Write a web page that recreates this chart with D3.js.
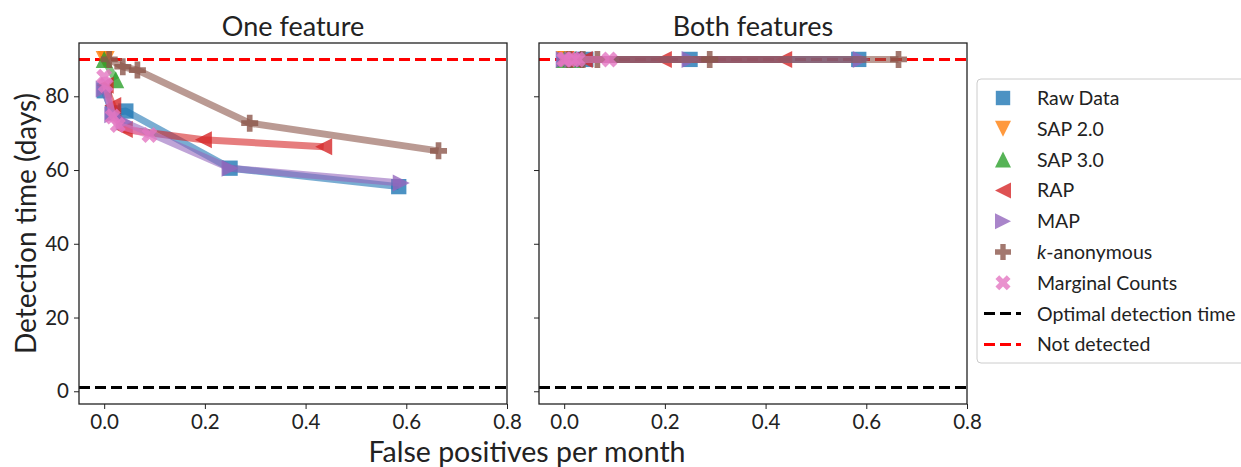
<!DOCTYPE html>
<html>
<head>
<meta charset="utf-8">
<script src="https://cdn.jsdelivr.net/npm/d3@7"></script>
<style>
  body { margin: 0; background: #fff; }
  svg { font-family: Lato, "Open Sans", sans-serif; }
</style>
</head>
<body>
<svg id="fig" width="1241" height="467"></svg>
<script>
// data
var names = ["Raw Data", "SAP 2.0", "SAP 3.0", "RAP", "MAP", "k-anonymous", "Marginal Counts"];
var colors = ["#1f77b4", "#ff7f0e", "#2ca02c", "#d62728", "#9467bd", "#8c564b", "#e377c2"];
var markers = ["square", "down", "up", "left", "right", "plus", "x"];

// false positives per month (same for both panels)
var fpRaw = [0.0, 0.017, 0.043, 0.25, 0.585];
var fpSap2 = [0.0, 0.004];
var fpSap3 = [0.0, 0.023];
var fpRap = [0.002, 0.017, 0.04, 0.197, 0.436];
var fpMap = [0.0, 0.017, 0.04, 0.25, 0.59];
var fpKanon = [0.01, 0.037, 0.066, 0.289, 0.664];
var fpMarginal = [0.0, 0.003, 0.017, 0.027, 0.09];

// detection time, one feature
var oneRaw = [81.5, 75.5, 76, 60.5, 55.5];
var oneSap2 = [90, 90];
var oneSap3 = [90, 84.5];
var oneRap = [83, 77.5, 71, 68.2, 66.3];
var oneMap = [82, 75, 73, 60.5, 56.5];
var oneKanon = [90, 88, 87.1, 72.7, 65.2];
var oneMarginal = [85.3, 83, 74.5, 72.2, 69.5];

// detection time, both features (never detected)
var bothRaw = [90, 90, 90, 90, 90];
var bothSap2 = [90, 90];
var bothSap3 = [90, 90];
var bothRap = [90, 90, 90, 90, 90];
var bothMap = [90, 90, 90, 90, 90];
var bothKanon = [90, 90, 90, 90, 90];
var bothMarginal = [90, 90, 90, 90, 90];

var fpAll = [fpRaw, fpSap2, fpSap3, fpRap, fpMap, fpKanon, fpMarginal];
var oneAll = [oneRaw, oneSap2, oneSap3, oneRap, oneMap, oneKanon, oneMarginal];
var bothAll = [bothRaw, bothSap2, bothSap3, bothRap, bothMap, bothKanon, bothMarginal];

var xTicks = [0, 0.2, 0.4, 0.6, 0.8];
var yTicks = [0, 20, 40, 60, 80];
var optimalTime = 1, notDetected = 90;

var svg = d3.select("#fig");
var top0 = 43, bottom0 = 404;
var panels = [
  {title: "One feature", left: 79, right: 507, values: oneAll, labels: true},
  {title: "Both features", left: 539, right: 967, values: bothAll, labels: false}
];

var y = d3.scaleLinear().domain([-3.45, 94.45]).range([bottom0, top0]);

// marker shapes, s = size in px
function markerPath(type, s) {
  var h = s / 2;
  if (type == "square") { h = s * 0.45; return "M" + -h + "," + -h + "H" + h + "V" + h + "H" + -h + "Z"; }
  if (type == "up") return "M0," + -h + "L" + h + "," + h + "L" + -h + "," + h + "Z";
  if (type == "down") return "M0," + h + "L" + h + "," + -h + "L" + -h + "," + -h + "Z";
  if (type == "left") return "M" + -h + ",0L" + h + "," + -h + "L" + h + "," + h + "Z";
  if (type == "right") return "M" + h + ",0L" + -h + "," + -h + "L" + -h + "," + h + "Z";
  if (type == "plus" || type == "x") {
    var a = h, b = h / 3;
    return "M" + -b + "," + -a + "H" + b + "V" + -b + "H" + a + "V" + b + "H" + b + "V" + a + "H" + -b + "V" + b + "H" + -a + "V" + -b + "H" + -b + "Z";
  }
}

panels.forEach(function(p) {
  var x = d3.scaleLinear().domain([-0.05, 0.8]).range([p.left, p.right]);
  var g = svg.append("g");

  g.append("defs").append("clipPath").attr("id", "clip" + p.left)
    .append("rect").attr("x", p.left).attr("y", top0)
    .attr("width", p.right - p.left).attr("height", bottom0 - top0);
  var plot = g.append("g").attr("clip-path", "url(#clip" + p.left + ")");

  // reference lines
  [[optimalTime, "#000"], [notDetected, "#ff0000"]].forEach(function(h) {
    plot.append("line")
      .attr("x1", p.left).attr("x2", p.right)
      .attr("y1", y(h[0])).attr("y2", y(h[0]))
      .attr("stroke", h[1]).attr("stroke-width", 3)
      .attr("stroke-dasharray", "11,5");
  });

  var line = d3.line().x(function(d) { return x(d[0]); }).y(function(d) { return y(d[1]); });

  for (var i = 0; i < names.length; i++) {
    var pts = d3.zip(fpAll[i], p.values[i]);
    plot.append("path")
      .datum(pts)
      .attr("fill", "none")
      .attr("stroke", colors[i])
      .attr("stroke-opacity", 0.6)
      .attr("stroke-width", 7)
      .attr("stroke-linejoin", "round")
      .attr("d", line);
    var m = markers[i];
    plot.selectAll(null).data(pts).enter().append("path")
      .attr("d", markerPath(m, 17))
      .attr("transform", function(d) {
        return "translate(" + x(d[0]) + "," + y(d[1]) + ")" + (m == "x" ? " rotate(45)" : "");
      })
      .attr("fill", colors[i])
      .attr("fill-opacity", 0.8);
  }

  // frame
  g.append("rect").attr("x", p.left).attr("y", top0)
    .attr("width", p.right - p.left).attr("height", bottom0 - top0)
    .attr("fill", "none").attr("stroke", "#222").attr("stroke-width", 1.3);

  // axes
  var xAxis = d3.axisBottom(x).tickValues(xTicks).tickFormat(d3.format(".1f")).tickSize(5).tickPadding(5);
  var gx = g.append("g").attr("transform", "translate(0," + bottom0 + ")").call(xAxis);
  var yAxis = d3.axisLeft(y).tickValues(yTicks).tickSize(5).tickPadding(5);
  if (!p.labels) yAxis.tickFormat("");
  var gy = g.append("g").attr("transform", "translate(" + p.left + ",0)").call(yAxis);
  [gx, gy].forEach(function(a) {
    a.select(".domain").remove();
    a.selectAll("text").attr("font-size", 20.5).attr("fill", "#222").attr("font-family", "Lato, sans-serif");
    a.selectAll("line").attr("stroke", "#222");
  });

  g.append("text")
    .attr("x", (p.left + p.right) / 2).attr("y", 36)
    .attr("text-anchor", "middle").attr("font-size", 27).attr("fill", "#222")
    .text(p.title);
});

// axis labels
svg.append("text")
  .attr("x", 527).attr("y", 462)
  .attr("text-anchor", "middle").attr("font-size", 28.5).attr("fill", "#222")
  .text("False positives per month");
svg.append("text")
  .attr("transform", "translate(36," + ((top0 + bottom0) / 2) + ") rotate(-90)")
  .attr("text-anchor", "middle").attr("font-size", 28).attr("fill", "#222")
  .text("Detection time (days)");

// legend
var lg = svg.append("g");
lg.append("rect").attr("x", 977).attr("y", 79).attr("width", 280).attr("height", 284)
  .attr("rx", 4).attr("fill", "#fff").attr("stroke", "#ccc");
var rowY = function(i) { return 98 + i * 30.8; };
for (var i = 0; i < names.length; i++) {
  lg.append("path")
    .attr("d", markerPath(markers[i], 16))
    .attr("transform", "translate(1003," + rowY(i) + ")" + (markers[i] == "x" ? " rotate(45)" : ""))
    .attr("fill", colors[i]).attr("fill-opacity", 0.8);
  var t = lg.append("text").attr("x", 1037).attr("y", rowY(i) + 7)
    .attr("font-size", 19.5).attr("fill", "#222");
  if (names[i] == "k-anonymous") {
    t.append("tspan").attr("font-style", "italic").text("k");
    t.append("tspan").text("-anonymous");
  } else {
    t.text(names[i]);
  }
}
[["Optimal detection time", "#000"], ["Not detected", "#ff0000"]].forEach(function(h, j) {
  var yy = rowY(names.length + j);
  lg.append("line").attr("x1", 984).attr("x2", 1021).attr("y1", yy).attr("y2", yy)
    .attr("stroke", h[1]).attr("stroke-width", 3).attr("stroke-dasharray", "11,5");
  lg.append("text").attr("x", 1037).attr("y", yy + 7)
    .attr("font-size", 19.5).attr("fill", "#222").text(h[0]);
});
</script>
</body>
</html>
